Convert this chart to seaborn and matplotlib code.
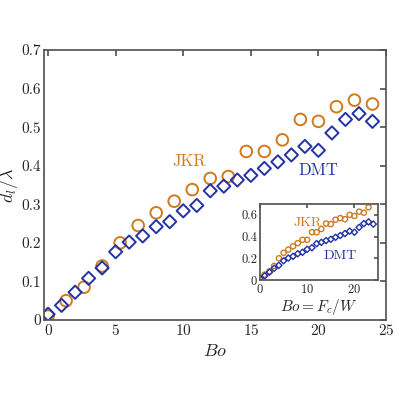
import matplotlib
matplotlib.use("Agg")
import matplotlib.pyplot as plt
import seaborn as sns
import numpy as np

sns.set_theme(style="white")
plt.rcParams['font.family'] = ['cmr10', 'DejaVu Serif']
plt.rcParams['mathtext.fontset'] = 'cm'
plt.rcParams['axes.formatter.use_mathtext'] = True

jkr_x = [0, 4/3, 8/3, 4, 16/3, 20/3, 8, 28/3, 32/3, 12, 40/3, 44/3, 16, 52/3, 56/3, 20, 64/3, 68/3, 24]
jkr_y = [0.01, 0.05, 0.085, 0.14, 0.2, 0.245, 0.278, 0.308, 0.338, 0.367, 0.372, 0.437,
         0.437, 0.467, 0.52, 0.515, 0.553, 0.57, 0.56]
dmt_x = list(range(25))
dmt_y = [0.015, 0.038, 0.072, 0.108, 0.135, 0.177, 0.202, 0.218, 0.242, 0.255, 0.283, 0.297,
         0.335, 0.347, 0.363, 0.375, 0.393, 0.41, 0.428, 0.45, 0.44, 0.485, 0.52, 0.535, 0.515]
ins_jkr_x = list(range(24))
ins_jkr_y = [0.01, 0.05, 0.08, 0.13, 0.2, 0.25, 0.28, 0.31, 0.34, 0.37, 0.37, 0.44, 0.44, 0.47,
             0.52, 0.515, 0.555, 0.57, 0.56, 0.6, 0.59, 0.63, 0.62, 0.67]

orange = '#d07a1e'
blue = '#2233a6'

fig = plt.figure(figsize=(4, 4), dpi=100)
ax = fig.add_axes([0.11, 0.2, 0.855, 0.675])
sns.scatterplot(x=jkr_x, y=jkr_y, ax=ax, marker='o', s=70, facecolors='none',
                edgecolor=orange, linewidth=1.4)
sns.scatterplot(x=dmt_x, y=dmt_y, ax=ax, marker='D', s=45, facecolors='none',
                edgecolor=blue, linewidth=1.4)
ax.set_xlim(-0.3, 25)
ax.set_ylim(0, 0.7)
ax.set_xticks([0, 5, 10, 15, 20, 25])
ax.set_yticks(np.arange(0, 0.71, 0.1))
ax.set_yticklabels(['0', '0.1', '0.2', '0.3', '0.4', '0.5', '0.6', '0.7'])
ax.set_xlabel(r'$Bo$', fontsize=13)
ax.set_ylabel(r'$d_l/\lambda$', fontsize=13, labelpad=1)
ax.tick_params(direction='in', top=True, right=True, labelsize=11, length=4, pad=2, color='#555')
for s in ax.spines.values():
    s.set_color('#555')
ax.text(9.2, 0.4, 'JKR', color=orange, fontsize=12)
ax.text(18.5, 0.375, 'DMT', color=blue, fontsize=12)

ins = fig.add_axes([0.65, 0.30, 0.295, 0.19])
sns.scatterplot(x=ins_jkr_x, y=ins_jkr_y, ax=ins, marker='o', s=14, facecolors='none',
                edgecolor=orange, linewidth=1.0)
sns.scatterplot(x=dmt_x, y=dmt_y, ax=ins, marker='D', s=10, facecolors='none',
                edgecolor=blue, linewidth=1.0)
ins.set_xlim(0, 25)
ins.set_ylim(0, 0.7)
ins.set_xticks([0, 10, 20])
ins.set_yticks([0, 0.2, 0.4, 0.6])
ins.set_yticklabels(['0', '0.2', '0.4', '0.6'])
ins.tick_params(direction='in', top=True, right=True, labelsize=9, length=3, pad=2, color='#555')
for s in ins.spines.values():
    s.set_color('#555')
ins.set_xlabel(r'$Bo = F_c/W$', fontsize=11, labelpad=1)
ins.text(7, 0.5, 'JKR', color=orange, fontsize=10)
ins.text(13.5, 0.19, 'DMT', color=blue, fontsize=10)

fig.savefig('out.png', dpi=100)
